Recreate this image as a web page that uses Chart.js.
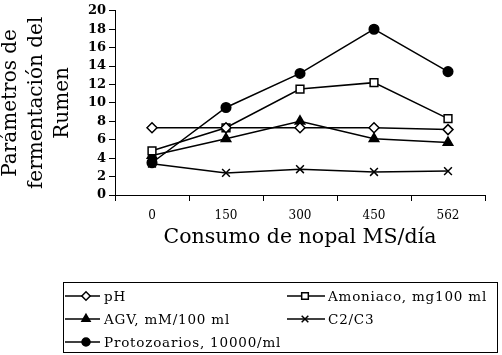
<!DOCTYPE html>
<html>
<head>
<meta charset="utf-8">
<script src="https://cdn.jsdelivr.net/npm/chart.js@4/dist/chart.umd.min.js"></script>
<style>
html,body{margin:0;padding:0;background:#fff;}
#wrap{width:502px;height:355px;position:relative;}
</style>
</head>
<body>
<div id="wrap"><canvas id="c" width="502" height="355"></canvas></div>
<script>
const categories = ['0', '150', '300', '450', '562'];
const phValues = [7.3, 7.3, 7.3, 7.3, 7.1];
const amoniacoValues = [4.8, 7.3, 11.5, 12.2, 8.3];
const agvValues = [4.3, 6.1, 8.0, 6.1, 5.7];
const c2c3Values = [3.4, 2.4, 2.8, 2.5, 2.6];
const protozoariosValues = [3.5, 9.5, 13.2, 18.0, 13.4];
const seriesNames = ['pH', 'Amoniaco, mg100 ml', 'AGV, mM/100 ml', 'C2/C3', 'Protozoarios, 10000/ml'];
const yTicks = [0, 2, 4, 6, 8, 10, 12, 14, 16, 18, 20];
const xTitle = 'Consumo de nopal MS/día';
const yTitle = ['Parámetros de', 'fermentación del', 'Rumen'];

const SERIF = '"DejaVu Serif", serif';
const styles = [
  {pointStyle: 'rectRot', fill: '#ffffff', radius: 5},
  {pointStyle: 'rect', fill: '#ffffff', radius: 5.5},
  {pointStyle: 'triangle', fill: '#000000', radius: 5.5},
  {pointStyle: 'crossRot', fill: '#000000', radius: 5.5},
  {pointStyle: 'circle', fill: '#000000', radius: 4.8}
];
const allValues = [phValues, amoniacoValues, agvValues, c2c3Values, protozoariosValues];

const datasets = allValues.map((vals, i) => ({
  label: seriesNames[i],
  data: vals,
  borderColor: '#000',
  borderWidth: 1.5,
  backgroundColor: styles[i].fill,
  pointStyle: styles[i].pointStyle,
  pointRadius: styles[i].radius,
  pointHoverRadius: styles[i].radius,
  pointBackgroundColor: styles[i].fill,
  pointBorderColor: '#000',
  pointBorderWidth: 1.5,
  tension: 0,
  fill: false
}));

const legendPlugin = {
  id: 'customLegend',
  afterDraw(chart) {
    const ctx = chart.ctx;
    ctx.save();
    ctx.strokeStyle = '#000';
    ctx.lineWidth = 1;
    ctx.strokeRect(63.5, 282.5, 434, 70);
    const pos = [
      {x0: 65, x1: 100, mx: 86, tx: 104, y: 296},
      {x0: 287, x1: 325, mx: 305, tx: 328, y: 296},
      {x0: 65, x1: 100, mx: 86, tx: 104, y: 319},
      {x0: 287, x1: 325, mx: 305, tx: 328, y: 319},
      {x0: 65, x1: 100, mx: 86, tx: 104, y: 342}
    ];
    ctx.font = '13.5px ' + SERIF;
    if ('letterSpacing' in ctx) ctx.letterSpacing = '0.8px';
    ctx.textBaseline = 'middle';
    ctx.textAlign = 'left';
    chart.data.datasets.forEach((ds, i) => {
      const p = pos[i];
      ctx.strokeStyle = '#000';
      ctx.lineWidth = 1.5;
      ctx.beginPath();
      ctx.moveTo(p.x0, p.y);
      ctx.lineTo(p.x1, p.y);
      ctx.stroke();
      ctx.fillStyle = styles[i].fill;
      ctx.strokeStyle = '#000';
      ctx.lineWidth = 1.5;
      Chart.helpers.drawPoint(ctx, {pointStyle: styles[i].pointStyle, radius: styles[i].radius - 0.8, rotation: 0, borderWidth: 1.5}, p.mx, p.y);
      ctx.fillStyle = '#000';
      ctx.fillText(ds.label, p.tx, p.y + 1);
    });
    if ('letterSpacing' in ctx) ctx.letterSpacing = '0px';
    ctx.restore();
  }
};

new Chart(document.getElementById('c'), {
  type: 'line',
  data: {labels: categories, datasets: datasets},
  options: {
    responsive: false,
    animation: false,
    events: [],
    layout: {padding: {top: 5, right: 17, bottom: 105, left: 0}},
    plugins: {legend: {display: false}, tooltip: {enabled: false}},
    scales: {
      x: {
        type: 'category',
        offset: true,
        grid: {display: true, offset: true, drawOnChartArea: false, drawTicks: true, tickLength: 6, color: '#000', lineWidth: 1},
        border: {display: true, color: '#000', width: 1},
        ticks: {color: '#000', font: {family: SERIF, size: 12}, padding: 8, maxRotation: 0, autoSkip: false},
        title: {display: true, text: xTitle, color: '#000', font: {family: SERIF, size: 20.5}, padding: {top: 0, bottom: 0}},
        afterFit(scale) { scale.height = 55; }
      },
      y: {
        min: 0, max: 20,
        afterBuildTicks(scale) { scale.ticks = yTicks.map(v => ({value: v})); },
        grid: {display: true, drawOnChartArea: false, drawTicks: true, tickLength: 6, color: '#000', lineWidth: 1},
        border: {display: true, color: '#000', width: 1},
        ticks: {color: '#000', font: {family: SERIF, size: 13, weight: 'bold'}, padding: 3, autoSkip: false},
        title: {display: true, text: yTitle, color: '#000', font: {family: SERIF, size: 20, lineHeight: 1.3}, padding: {top: -2, bottom: 0}},
        afterFit(scale) { scale.width = 115; }
      }
    }
  },
  plugins: [legendPlugin]
});
</script>
</body>
</html>
